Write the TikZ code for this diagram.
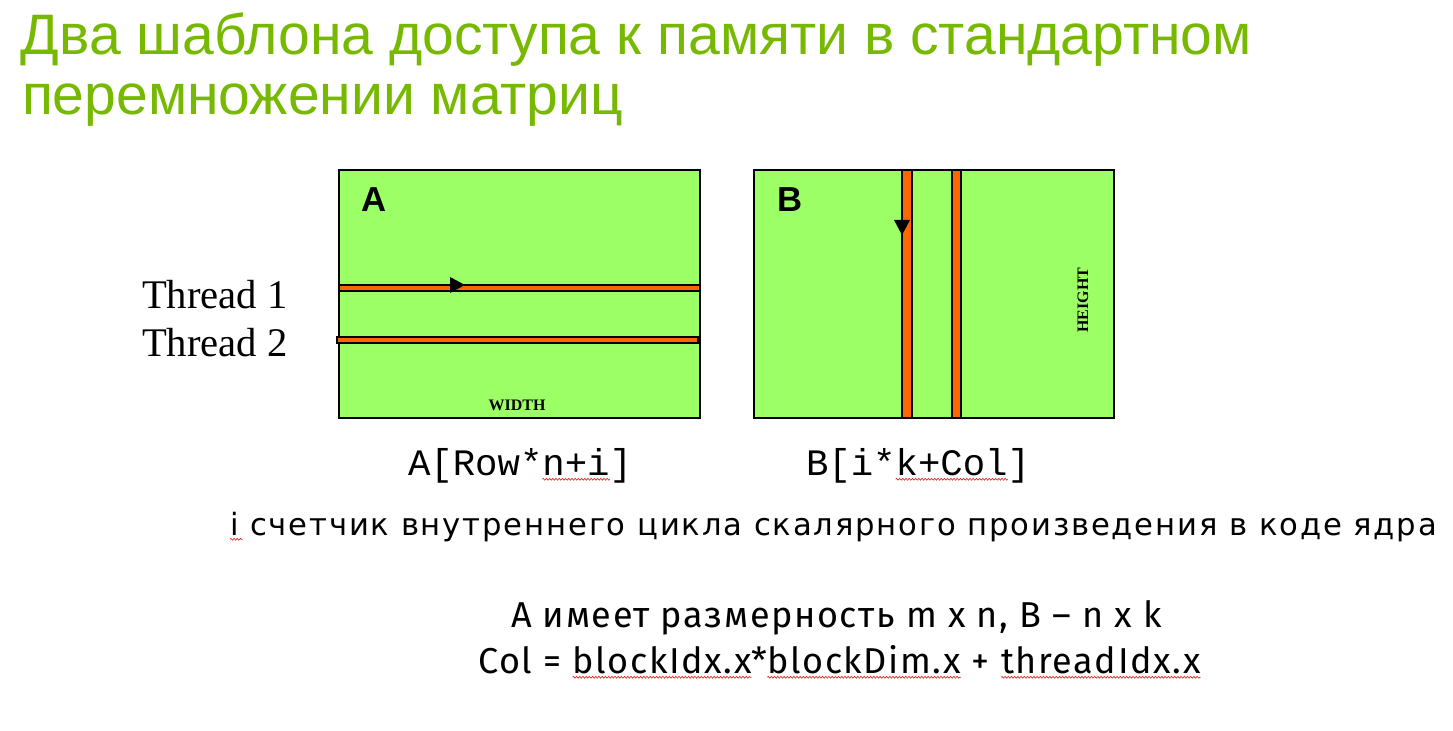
\documentclass[tikz,border=0pt]{standalone}
\usepackage{fontspec}
\setmainfont{Liberation Serif}
\newfontfamily\arialfont{Liberation Sans}
\newfontfamily\timesfont{Liberation Serif}
\newfontfamily\courfont{Liberation Mono}
\newfontfamily\notefont[LetterSpace=6]{DejaVu Sans}
\newfontfamily\formulafont[LetterSpace=4.5]{Fira Sans}
\usetikzlibrary{decorations.pathmorphing}

\definecolor{titlegreen}{RGB}{118,185,0}
\definecolor{matgreen}{RGB}{156,255,102}
\definecolor{stripeorange}{RGB}{255,102,0}
\definecolor{squigred}{RGB}{230,40,40}

\begin{document}
\begin{tikzpicture}[
  x=0.75pt, y=-0.75pt,
  piece/.style={inner sep=0pt, outer sep=0pt, anchor=base west},
  titletext/.style={piece, text=titlegreen, font=\arialfont\fontsize{42.8}{50}\selectfont},
  matbox/.style={draw=black, line width=1.5pt, fill=matgreen, inner sep=0pt},
  stripe/.style={draw=black, line width=1.1pt, fill=stripeorange},
  arrowhead/.style={fill=black, draw=none},
  matname/.style={piece, font=\arialfont\bfseries\fontsize{26}{30}\selectfont},
  dimname/.style={inner sep=0pt, font=\timesfont\bfseries\fontsize{12}{14}\selectfont},
  threadtext/.style={piece, font=\timesfont\fontsize{30.5}{36}\selectfont},
  monotext/.style={piece, font=\courfont\fontsize{28}{32}\selectfont},
  notetext/.style={piece, font=\notefont\fontsize{23}{28}\selectfont},
  formulatext/.style={piece, font=\formulafont\fontsize{27}{32}\selectfont},
  squig/.style={draw=squigred, line width=0.5pt,
    decorate, decoration={zigzag, segment length=2.4pt, amplitude=0.7pt}}
]
\useasboundingbox[fill=white] (0,0) rectangle (1453,731);

% title
\node[titletext] (title1) at (21,55) {Два шаблона доступа к памяти в стандартном};
\node[titletext] (title2) at (22,115) {перемножении матриц};

% matrix A with its two thread rows
\node[matbox, minimum width=270.75pt, minimum height=186pt] (matA) at (519.5,294) {};
\draw[stripe] (339,285) rectangle (700,291);
\draw[stripe] (337,337) rectangle (698,343);
\fill[arrowhead] (450,277) -- (465,285) -- (450,293) -- cycle;
\node[matname] (nameA) at (361,211) {A};
\node[dimname, anchor=base] (widthA) at (517,410) {WIDTH};

% matrix B with its two thread columns
\node[matbox, minimum width=270pt, minimum height=186pt] (matB) at (934,294) {};
\draw[stripe] (902,170) rectangle (912,418);
\draw[stripe] (952,170) rectangle (961,418);
\fill[arrowhead] (894,220) -- (910,220) -- (902,235) -- cycle;
\node[matname] (nameB) at (777,211) {B};
\node[dimname, rotate=90] (heightB) at (1083,300) {HEIGHT};

% thread labels
\node[threadtext] (thread1) at (142,308) {Thread 1};
\node[threadtext] (thread2) at (142,356) {Thread 2};

% index expressions
\node[monotext] (idxA1) at (408,475) {A[Row*};
\node[monotext] (idxA2) at (idxA1.base east) {n+i};
\node[monotext] (idxA3) at (idxA2.base east) {]};
\node[monotext] (idxB1) at (806,475) {B[i*};
\node[monotext] (idxB2) at (idxB1.base east) {k+Col};
\node[monotext] (idxB3) at (idxB2.base east) {]};

% explanation lines
\node[notetext] (note1) at (230,535) {i};
\node[notetext] (note2) at (note1.base east) {\mbox{} счетчик внутреннего цикла скалярного произведения в коде ядра};

\node[formulatext] (dims) at (511,627) {А имеет размерность m x n, B – n x k};
\node[formulatext] (col1) at (478,673) {Col = \mbox{}};
\node[formulatext] (col2) at (col1.base east) {blockIdx.x};
\node[formulatext] (col3) at (col2.base east) {*};
\node[formulatext] (col4) at (col3.base east) {blockDim.x};
\node[formulatext] (col5) at (col4.base east) {\mbox{} + \mbox{}};
\node[formulatext] (col6) at (col5.base east) {threadIdx.x};

% spelling marks under flagged words
\foreach \w in {idxA2, idxB2, col2, col4, col6}
  \draw[squig] ([yshift=-3.2pt]\w.base west) -- ([yshift=-3.2pt]\w.base east);
\draw[squig] ([yshift=-3.2pt]note1.base west) -- ([yshift=-3.2pt,xshift=3pt]note1.base east);
\end{tikzpicture}
\end{document}
